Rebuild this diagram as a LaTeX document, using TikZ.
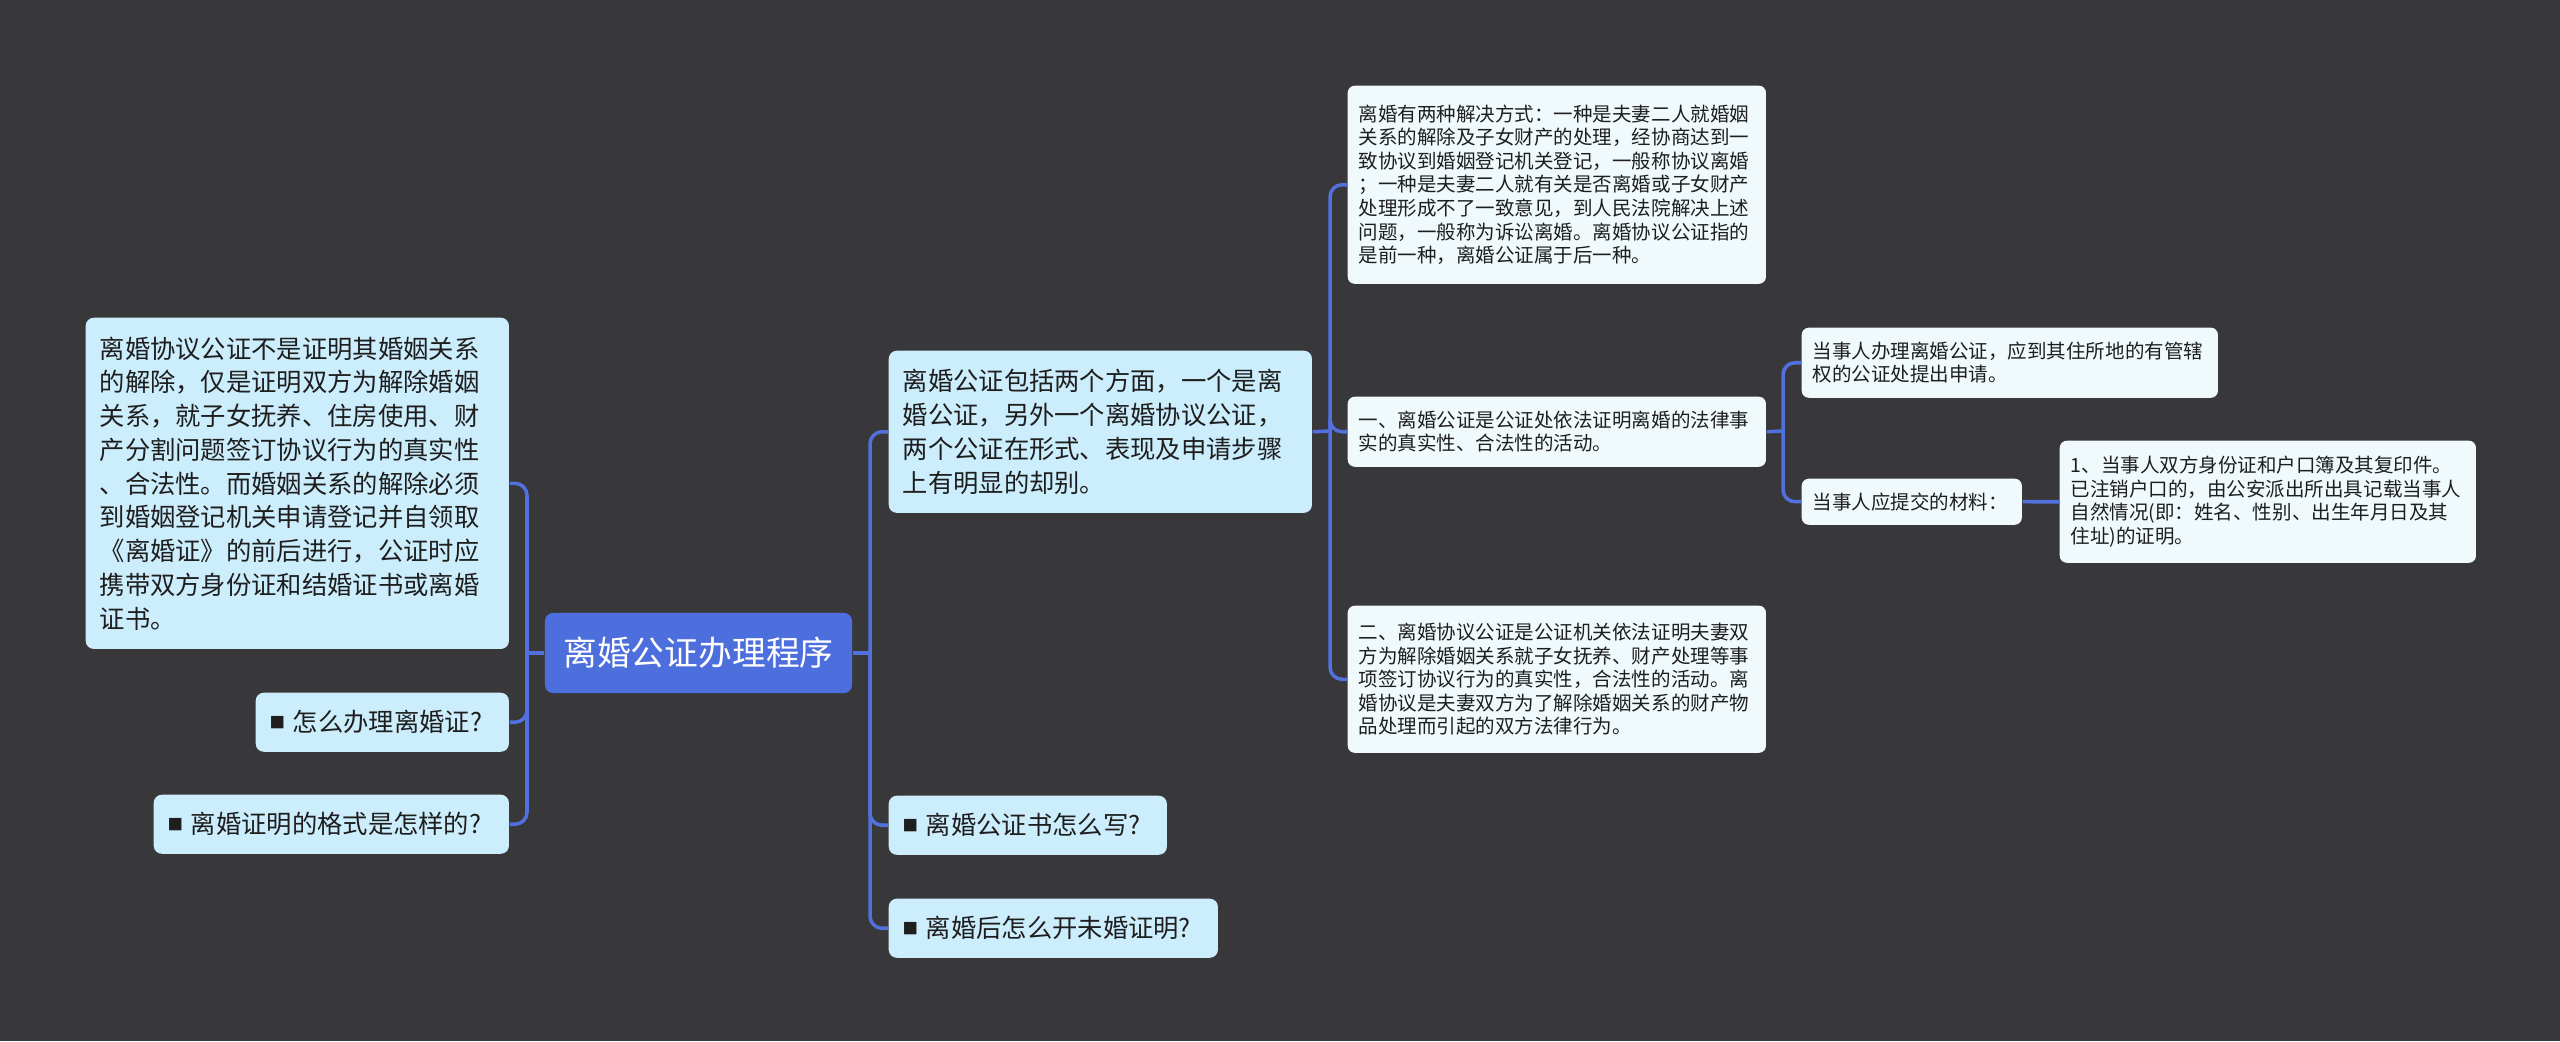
\documentclass[tikz,border=0pt]{standalone}
\usepackage{fontspec}
\setmainfont{Noto Sans CJK SC}
\usepackage{tikz}
\usepackage{xcolor}
\usetikzlibrary{positioning, calc}
\definecolor{cBack}{RGB}{56,55,58}
\definecolor{cRoot}{RGB}{76,111,221}
\definecolor{cTopic}{RGB}{204,237,252}
\definecolor{cNote}{RGB}{240,250,253}
\definecolor{cLine}{RGB}{82,112,222}
\definecolor{cInk}{RGB}{30,30,30}
\newcommand{\sqmark}{\raisebox{0.15em}{\fontsize{4.4pt}{4.4pt}\selectfont ■}\hspace{0.3em}}
\tikzset{
	rootbox/.style ={rectangle, rounded corners=0.08cm, fill=cRoot, text=white, font=\fontsize{9.6pt}{11pt}\selectfont, minimum width=3.07cm, minimum height=0.8cm, inner sep=0pt},
	topicbox/.style={rectangle, rounded corners=0.08cm, fill=cTopic, text=cInk, align=left, font=\fontsize{7.2pt}{9.6pt}\selectfont, inner xsep=0.14cm, inner ysep=0.02cm, anchor=north west},
	notebox/.style ={rectangle, rounded corners=0.07cm, fill=cNote, text=cInk, align=left, font=\fontsize{5.55pt}{6.69pt}\selectfont, inner xsep=0.11cm, inner ysep=0.02cm, anchor=north west},
	flowline/.style={draw=cLine, line width=1pt, rounded corners=0.12cm},
}

\begin{document}
\begin{tikzpicture}[x=0.01cm, y=-0.01cm]
	\useasboundingbox (0,0) rectangle (2560,1041);
	\fill[cBack] (0,0) rectangle (2560,1041);

	% centre
	\node[rootbox] (root) at (698.5,653) {离婚公证办理程序};

	% left side
	\node[topicbox, text width=3.95cm, minimum height=3.31cm] (left1) at (85,317) {离婚协议公证不是证明其婚姻关系\\的解除，仅是证明双方为解除婚姻\\关系，就子女抚养、住房使用、财\\产分割问题签订协议行为的真实性\\、合法性。而婚姻关系的解除必须\\到婚姻登记机关申请登记并自领取\\《离婚证》的前后进行，公证时应\\携带双方身份证和结婚证书或离婚\\证书。};
	\node[topicbox, text width=2.25cm, minimum height=0.59cm] (left2) at (255,692) {\sqmark 怎么办理离婚证?};
	\node[topicbox, text width=3.27cm, minimum height=0.59cm] (left3) at (153,794) {\sqmark 离婚证明的格式是怎样的?};

	% right side
	\node[topicbox, text width=3.95cm, minimum height=1.62cm] (right1) at (888,350) {离婚公证包括两个方面，一个是离\\婚公证，另外一个离婚协议公证，\\两个公证在形式、表现及申请步骤\\上有明显的却别。};
	\node[topicbox, text width=2.50cm, minimum height=0.59cm] (right2) at (888,795) {\sqmark 离婚公证书怎么写?};
	\node[topicbox, text width=3.01cm, minimum height=0.59cm] (right3) at (888,898) {\sqmark 离婚后怎么开未婚证明?};

	% notes
	\node[notebox, text width=3.96cm, minimum height=1.98cm] (note1) at (1347,85) {离婚有两种解决方式：一种是夫妻二人就婚姻\\关系的解除及子女财产的处理，经协商达到一\\致协议到婚姻登记机关登记，一般称协议离婚\\；一种是夫妻二人就有关是否离婚或子女财产\\处理形成不了一致意见，到人民法院解决上述\\问题，一般称为诉讼离婚。离婚协议公证指的\\是前一种，离婚公证属于后一种。};
	\node[notebox, text width=3.96cm, minimum height=0.70cm] (note2) at (1347,396) {一、离婚公证是公证处依法证明离婚的法律事\\实的真实性、合法性的活动。};
	\node[notebox, text width=3.96cm, minimum height=1.47cm] (note3) at (1347,605) {二、离婚协议公证是公证机关依法证明夫妻双\\方为解除婚姻关系就子女抚养、财产处理等事\\项签订协议行为的真实性，合法性的活动。离\\婚协议是夫妻双方为了解除婚姻关系的财产物\\品处理而引起的双方法律行为。};
	\node[notebox, text width=3.94cm, minimum height=0.70cm] (step1) at (1801,327) {当事人办理离婚公证，应到其住所地的有管辖\\权的公证处提出申请。};
	\node[notebox, text width=1.98cm, minimum height=0.46cm] (step2) at (1801,478) {当事人应提交的材料：};
	\node[notebox, text width=3.94cm, minimum height=1.22cm] (item1) at (2059,440) {1、当事人双方身份证和户口簿及其复印件。\\已注销户口的，由公安派出所出具记载当事人\\自然情况(即：姓名、性别、出生年月日及其\\住址)的证明。};

	% junctions
	\coordinate (lj) at (527,653);
	\coordinate (rj) at (870,653);
	\coordinate (sj) at (1330,431);
	\coordinate (tj) at (1783,431);

	\draw[flowline] (root.west) -- (lj);
	\foreach \n in {left1,left2,left3}
		\draw[flowline] (lj) |- (\n.east);
	\draw[flowline] (root.east) -- (rj);
	\foreach \n in {right1,right2,right3}
		\draw[flowline] (rj) |- (\n.west);
	\draw[flowline] (right1.east) -- (sj);
	\foreach \n in {note1,note2,note3}
		\draw[flowline] (sj) |- (\n.west);
	\draw[flowline] (note2.east) -- (tj);
	\foreach \n in {step1,step2}
		\draw[flowline] (tj) |- (\n.west);
	\draw[flowline] (step2.east) -- (item1.west);
\end{tikzpicture}
\end{document}
